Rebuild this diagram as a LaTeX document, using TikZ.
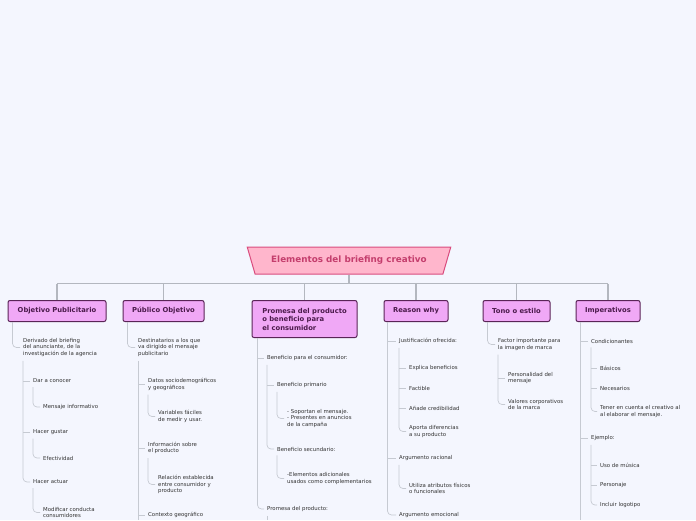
\documentclass[tikz,border=0pt]{standalone}
\usepackage{fontspec}
\setmainfont{DejaVu Sans}
\usepackage{xcolor}
\usepackage{tikz}
\usetikzlibrary{shapes.geometric}
\definecolor{bgblue}{HTML}{F4F6FE}
\definecolor{titlefill}{HTML}{FFB6CC}
\definecolor{titledraw}{HTML}{D94C7E}
\definecolor{titletext}{HTML}{C43E6D}
\definecolor{topicfill}{HTML}{F0A8F6}
\definecolor{topicdraw}{HTML}{5A2457}
\definecolor{topictext}{HTML}{4C1B4C}
\definecolor{itemtext}{HTML}{333333}
\definecolor{busgray}{HTML}{B3B7BF}
\definecolor{linegray}{HTML}{C6CAD2}

\begin{document}
\begin{tikzpicture}[x=1pt,y=-1pt,
  titlebox/.style={trapezium,shape border rotate=180,trapezium stretches=true,
    trapezium left angle=66,trapezium right angle=66,minimum width=204pt,
    minimum height=27pt,fill=titlefill,draw=titledraw,line width=1pt,
    text=titletext,font=\fontsize{8.8}{10}\selectfont\bfseries},
  topic/.style={rectangle,rounded corners=2pt,fill=topicfill,draw=topicdraw,
    line width=1pt,text=topictext,font=\fontsize{6.8}{8.5}\selectfont\bfseries,
    align=left,minimum height=21pt,anchor=north},
  item/.style={anchor=west,inner sep=1pt,align=left,text=itemtext,
    font=\fontsize{5.4}{6.6}\selectfont},
  bus/.style={draw=busgray,line width=1.3pt},
  branch/.style={draw=linegray,line width=0.7pt,rounded corners=4pt}]
  \fill[bgblue] (0,0) rectangle (696,520);
  \useasboundingbox (0,0) rectangle (696,520);
  \coordinate (bot) at (0,520);

  % title and main topics
  \node[titlebox] (title) at (349,260.5) {Elementos del briefing creativo};
  \node[topic,minimum width=98pt] (obj) at (57,300) {Objetivo Publicitario};
  \node[topic,minimum width=81pt] (pub) at (163.5,300) {Público Objetivo};
  \node[topic,minimum width=105pt,minimum height=37pt] (prom) at (304.5,300)
    {Promesa del producto\\o beneficio para\\el consumidor};
  \node[topic,minimum width=64pt] (why) at (416,300) {Reason why};
  \node[topic,minimum width=67pt] (tono) at (516.5,300) {Tono o estilo};
  \node[topic,minimum width=64pt] (imp) at (608,300) {Imperativos};

  \draw[bus] (title.south) -- ++(0,9) coordinate (bus);
  \draw[bus] (bus -| obj.north) -- (bus -| imp.north);
  \foreach \t in {obj,pub,prom,why,tono,imp}
    \draw[bus] (bus -| \t.north) -- (\t.north);

  % Objetivo Publicitario
  \node[item] (o1) at (22,347.5) {Derivado del briefing\\del anunciante, de la\\investigación de la agencia};
  \node[item] (o11) at (32,381) {Dar a conocer};
  \node[item] (o12) at (32,432) {Hacer gustar};
  \node[item] (o13) at (32,482) {Hacer actuar};
  \node[item] (o111) at (42,407) {Mensaje informativo};
  \node[item] (o121) at (42,458) {Efectividad};
  \node[item] (o131) at (42,512.5) {Modificar conducta\\consumidores};

  % Publico Objetivo
  \node[item] (p1) at (137,347.5) {Destinatarios a los que\\va dirigido el mensaje\\publicitario};
  \node[item] (p11) at (147,384.5) {Datos sociodemográficos\\y geográficos};
  \node[item] (p12) at (147,448) {Información sobre\\el producto};
  \node[item] (p13) at (147,515) {Contexto geográfico};
  \node[item] (p111) at (157,416.5) {Variables fáciles\\de medir y usar.};
  \node[item] (p121) at (157,484.5) {Relación establecida\\entre consumidor y\\producto};

  % Promesa
  \node[item] (r1) at (266,358) {Beneficio para el consumidor:};
  \node[item] (r2) at (266,509) {Promesa del producto:};
  \node[item] (r11) at (276,385) {Beneficio primario};
  \node[item] (r12) at (276,449) {Beneficio secundario:};
  \node[item] (r111) at (286,418.5) {- Soportan el mensaje.\\- Presentes en anuncios\\de la campaña};
  \node[item] (r121) at (286,478.5) {-Elementos adicionales\\usados como complementarios};

  % Reason why
  \node[item] (w1) at (398,341) {Justificación ofrecida:};
  \node[item] (w2) at (398,458) {Argumento racional};
  \node[item] (w3) at (398,515) {Argumento emocional};
  \node[item] (w11) at (408,368) {Explica beneficios};
  \node[item] (w12) at (408,388) {Factible};
  \node[item] (w13) at (408,408) {Añade credibilidad};
  \node[item] (w14) at (408,431.5) {Aporta diferencias\\a su producto};
  \node[item] (w21) at (408,488.5) {Utiliza atributos físicos\\o funcionales};

  % Tono o estilo
  \node[item] (t1) at (497,344.5) {Factor importante para\\la imagen de marca};
  \node[item] (t11) at (507,378) {Personalidad del\\mensaje};
  \node[item] (t12) at (507,404.5) {Valores corporativos\\de la marca};

  % Imperativos
  \node[item] (m1) at (590,341) {Condicionantes};
  \node[item] (m2) at (590,438) {Ejemplo:};
  \node[item] (m11) at (599,368) {Básicos};
  \node[item] (m12) at (599,388) {Necesarios};
  \node[item] (m13) at (599,411.5) {Tener en cuenta el creativo al\\al elaborar el mensaje.};
  \node[item] (m21) at (599,465) {Uso de música};
  \node[item] (m22) at (599,485) {Personaje};
  \node[item] (m23) at (599,505) {Incluir logotipo};

  % branch starts
  \coordinate (obj-l) at ([xshift=5pt]obj.south west);
  \coordinate (pub-l) at ([xshift=5pt]pub.south west);
  \coordinate (prom-l) at ([xshift=6pt]prom.south west);
  \coordinate (why-l) at ([xshift=4pt]why.south west);
  \coordinate (tono-l) at ([xshift=5pt]tono.south west);
  \coordinate (imp-l) at ([xshift=5pt]imp.south west);
  \foreach \p in {o1,o11,o12,o13,p1,p11,p12,r1,r2,r11,r12,w1,w2,t1,m1,m2}
    \coordinate (\p-l) at ([xshift=1pt,yshift=-3pt]\p.south west);

  % last child, rounded
  \foreach \p/\c in {obj/o1,o1/o13,o11/o111,o12/o121,o13/o131,pub/p1,p11/p111,
      p12/p121,prom/r2,r1/r12,r11/r111,r12/r121,why/w3,w1/w14,w2/w21,tono/t1,
      t1/t12,m1/m13,m2/m23}
    \draw[branch] (\p-l) |- ([xshift=-2pt]\c.west);
  % other children
  \foreach \p/\c in {o1/o11,o1/o12,p1/p11,p1/p12,p1/p13,prom/r1,r1/r11,why/w1,
      why/w2,w1/w11,w1/w12,w1/w13,t1/t11,imp/m1,imp/m2,m1/m11,m1/m12,m2/m21,m2/m22}
    \draw[branch] (\p-l |- \c.west) -- ([xshift=-2pt]\c.west);
  % lines leaving the page
  \foreach \p in {p1,r2,imp}
    \draw[branch] (\p-l) -- (\p-l |- bot);
\end{tikzpicture}
\end{document}
